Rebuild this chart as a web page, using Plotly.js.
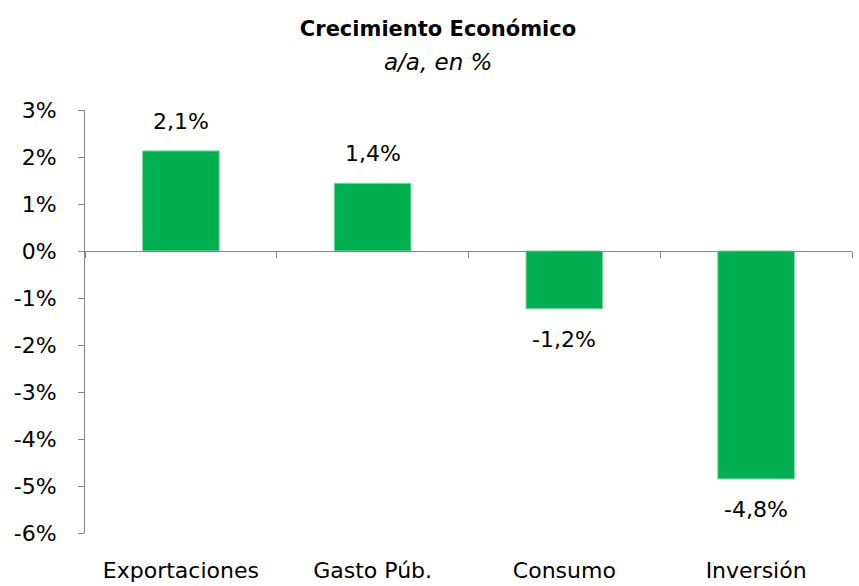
<!DOCTYPE html>
<html>
<head>
<meta charset="utf-8">
<script src="https://cdn.plot.ly/plotly-3.0.1.min.js"></script>
<style>body{margin:0;} #chart{width:859px;height:586px;}</style>
</head>
<body>
<div id="chart"></div>
<script>
// data
var categories = ["Exportaciones", "Gasto Púb.", "Consumo", "Inversión"];
var growth = [2.13, 1.44, -1.23, -4.85];
var valueLabels = ["2,1%", "1,4%", "-1,2%", "-4,8%"];
var yTicks = [3, 2, 1, 0, -1, -2, -3, -4, -5, -6];

var green = "#00B050";
var axisGray = "#868686";
var fontFam = "'DejaVu Sans', sans-serif";
var fsize = 22;

var bars = {
    x: categories,
    y: growth,
    type: "bar",
    marker: {color: green, line: {color: "#7fd8a6", width: 1}},
    hoverinfo: "skip"
};

// invisible copy on a second x axis, only to draw the axis line at zero
var zeroAxisTrace = {
    x: categories,
    y: growth,
    type: "bar",
    xaxis: "x2",
    opacity: 0,
    hoverinfo: "skip",
    showlegend: false
};

var labelNotes = categories.map(function(cat, i) {
    var up = growth[i] >= 0;
    return {
        x: cat, y: growth[i], xref: "x", yref: "y",
        text: valueLabels[i], showarrow: false,
        yanchor: up ? "bottom" : "top",
        yshift: up ? 15 : -16,
        font: {family: fontFam, size: fsize, color: "#000"}
    };
});

// subtitle under the title
labelNotes.push({
    xref: "paper", yref: "paper", x: (438 - 85) / 767, y: 1 + (110 - 62) / 423,
    xanchor: "center", yanchor: "middle", showarrow: false,
    text: "<i>a/a, en %</i>",
    font: {family: fontFam, size: 23, color: "#000"}
});

var yMin = -6, yMax = 3;

var layout = {
    width: 859, height: 586,
    margin: {l: 85, r: 7, t: 110, b: 53},
    paper_bgcolor: "#fff", plot_bgcolor: "#fff",
    showlegend: false,
    bargap: 0.6,
    font: {family: fontFam, size: fsize, color: "#000"},
    title: {
        text: "<b>Crecimiento Económico</b>",
        font: {family: fontFam, size: 21, color: "#000"},
        xref: "container", x: 438 / 859, xanchor: "center",
        yref: "container", y: 1 - 29 / 586, yanchor: "middle"
    },
    xaxis: {
        type: "category",
        categoryarray: categories,
        range: [-0.5, 3.5],
        showline: false, showgrid: false, zeroline: false,
        ticks: "",
        ticklabelstandoff: 22,
        tickfont: {family: fontFam, size: fsize, color: "#000"}
    },
    xaxis2: {
        type: "category",
        categoryarray: categories,
        range: [-0.5, 3.5],
        overlaying: "x",
        anchor: "free",
        position: (0 - yMin) / (yMax - yMin),
        side: "bottom",
        showline: true, linecolor: axisGray, linewidth: 1,
        showgrid: false, zeroline: false,
        tickson: "boundaries",
        ticks: "outside", ticklen: 6, tickcolor: axisGray,
        showticklabels: false
    },
    yaxis: {
        range: [yMin, yMax],
        tickvals: yTicks,
        ticktext: yTicks.map(function(v) { return v + "%"; }),
        showline: true, linecolor: axisGray, linewidth: 1,
        showgrid: false, zeroline: false,
        ticks: "outside", ticklen: 6, tickcolor: axisGray,
        ticklabelstandoff: 17,
        tickfont: {family: fontFam, size: fsize, color: "#000"}
    },
    annotations: labelNotes
};

Plotly.newPlot("chart", [bars, zeroAxisTrace], layout, {displayModeBar: false});
</script>
</body>
</html>
